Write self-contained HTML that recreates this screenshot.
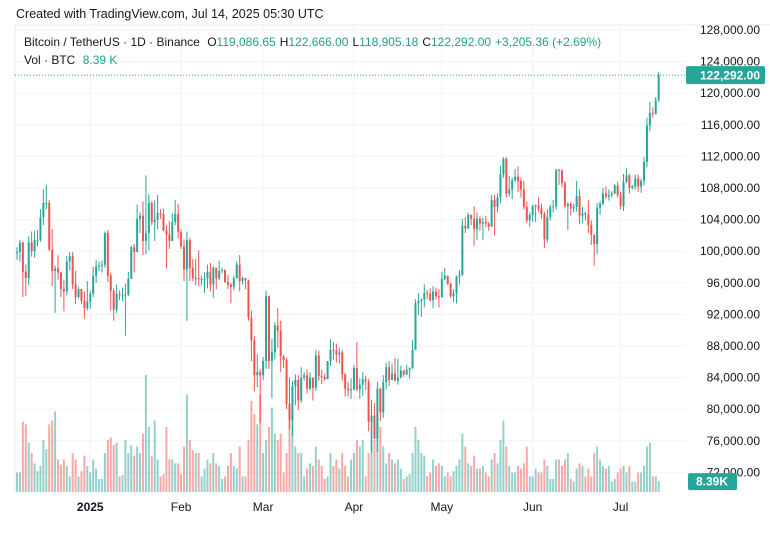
<!DOCTYPE html>
<html><head><meta charset="utf-8">
<style>
html,body{margin:0;padding:0;background:#fff;}
body{width:770px;height:533px;overflow:hidden;position:relative;font-family:"Liberation Sans",sans-serif;}
svg{position:absolute;left:0;top:0;}
</style></head>
<body>
<svg id="chart" width="770" height="533" viewBox="0 0 770 533">
  <text x="16" y="18" font-size="12.5" fill="#131722">Created with TradingView.com, Jul 14, 2025 05:30 UTC</text>
  <line x1="15" y1="25" x2="770" y2="25" stroke="#e6e8ee"/>
  <line x1="15" y1="25" x2="15" y2="493" stroke="#e6e8ee"/>
  <g id="grid"></g>
  <g id="vol"></g>
  <g id="candles"></g>
  <g id="yaxis"></g>
  <g id="xaxis"></g>
  <text x="24" y="46" font-size="12" fill="#131722">Bitcoin / TetherUS · 1D · Binance <tspan dx="4">O</tspan><tspan fill="#22a08f">119,086.65</tspan><tspan dx="4">H</tspan><tspan fill="#22a08f">122,666.00</tspan><tspan dx="4">L</tspan><tspan fill="#22a08f">118,905.18</tspan><tspan dx="4">C</tspan><tspan fill="#22a08f">122,292.00</tspan><tspan dx="4" fill="#22a08f">+3,205.36 (+2.69%)</tspan></text>
  <text x="24" y="64" font-size="12" fill="#131722">Vol · BTC <tspan dx="4" fill="#22a08f">8.39 K</tspan></text>
</svg>
<script>
const closes=[99.9,101.1,97.4,96.6,101.1,100.0,101.4,101.4,104.3,106.1,106.1,100.2,97.5,97.8,97.3,95.2,94.9,98.7,99.4,95.8,94.2,95.2,93.7,92.8,93.6,
94.6,96.9,98.1,98.2,98.3,102.3,96.9,95.0,92.6,94.6,94.5,94.5,94.5,96.5,100.5,99.9,104.1,104.5,101.3,102.3,106.1,103.7,104.0,104.8,104.7,102.6,102.1,101.3,103.7,104.7,102.4,
100.6,97.7,101.4,97.9,96.6,96.6,96.5,96.5,96.5,97.4,95.8,97.9,96.6,97.5,97.6,96.1,95.8,95.5,96.6,98.3,96.2,96.6,96.3,91.6,88.7,84.3,84.7,84.3,
86.1,94.3,86.1,87.2,90.6,89.9,86.7,86.2,80.7,78.6,82.9,83.7,81.1,84.0,84.3,82.6,84.0,82.7,86.8,84.2,84.1,83.8,86.1,87.5,87.4,86.9,87.2,84.4,82.6,82.4,82.5,
85.2,82.5,83.1,83.8,83.5,78.4,79.2,76.3,82.6,79.6,83.4,85.3,83.7,84.5,83.6,84.0,84.9,84.4,85.0,85.2,87.5,93.4,93.7,93.9,94.7,94.6,93.8,94.9,94.3,94.2,
96.5,96.9,95.9,94.3,94.7,96.8,97.0,103.2,102.9,104.6,104.1,102.8,104.1,103.5,103.7,103.5,103.1,106.5,105.6,106.8,109.7,111.7,107.3,107.8,109.0,109.4,108.9,107.8,105.6,103.9,104.6,
105.7,105.8,105.4,104.7,101.5,104.3,105.6,105.7,110.3,110.2,108.6,105.7,106.0,105.4,105.6,107.0,104.5,104.8,104.6,103.3,102.1,100.9,105.5,106.0,107.3,106.9,107.1,107.3,108.3,107.1,
105.7,108.8,109.6,108.0,108.2,109.2,108.2,108.9,111.3,115.9,117.5,117.4,119.09,122.29];
const highs=[100.5,101.4,101.2,98.3,101.9,102.5,102.6,102.7,105.3,107.8,108.4,106.5,102.8,98.2,99.5,97.4,96.4,99.4,99.9,99.9,97.5,95.5,95.2,94.9,96.2,
95.0,98.0,98.9,98.7,98.8,102.5,102.7,97.3,95.3,95.8,95.0,95.4,95.9,97.4,100.7,100.9,105.9,104.9,106.3,109.6,107.2,106.3,106.4,107.1,105.3,105.4,103.3,103.8,104.8,106.5,106.0,
102.8,101.5,102.5,101.7,99.0,99.0,100.1,96.9,97.3,98.3,98.5,98.1,97.3,98.8,97.9,97.7,97.0,96.0,96.9,98.7,99.5,96.8,96.5,96.4,92.5,89.3,87.0,85.1,
86.6,95.0,94.4,88.9,91.0,92.8,91.2,86.9,86.5,84.0,83.6,84.4,84.3,85.3,84.7,85.0,84.7,84.0,87.5,87.4,85.0,84.5,86.1,88.8,88.5,88.3,87.8,87.5,84.6,83.5,83.9,
85.6,88.5,83.9,84.7,84.2,83.8,81.2,80.8,83.5,82.7,84.3,85.9,86.1,85.8,86.5,86.4,85.5,85.0,85.6,85.3,88.8,93.9,94.7,94.0,95.8,95.1,95.3,95.6,95.4,95.2,
97.4,97.9,96.9,96.0,95.2,96.9,97.6,104.1,104.3,104.9,104.6,105.7,104.9,104.4,104.2,104.5,103.7,107.1,107.1,107.3,110.8,111.9,111.9,109.5,109.3,110.4,110.7,109.3,108.9,106.3,104.9,
105.9,105.9,106.8,106.0,105.0,105.3,105.9,106.5,110.4,110.4,110.4,108.9,106.2,106.2,106.0,108.9,107.8,105.6,105.0,106.5,103.9,102.1,106.1,106.3,108.0,108.2,107.8,107.6,108.5,108.8,
107.5,109.8,110.5,109.8,108.4,109.7,109.7,109.2,111.9,116.9,118.9,118.2,119.5,122.67];
const lows=[98.9,98.7,94.2,94.3,95.7,99.3,99.2,100.6,101.2,103.3,105.3,100.0,95.6,92.2,96.4,94.2,92.4,94.4,97.6,95.2,93.3,94.0,93.3,91.5,92.5,
92.7,94.2,96.0,97.5,97.3,97.9,96.1,92.5,91.2,92.2,93.8,93.7,89.3,94.3,96.5,97.3,99.9,102.3,99.5,99.6,100.1,103.3,101.3,102.8,104.1,102.5,97.8,100.3,101.3,103.3,101.6,
100.3,96.2,91.2,96.2,96.2,95.7,95.6,95.7,94.7,95.3,94.9,94.1,95.2,96.3,97.2,96.0,95.2,93.4,95.1,96.5,94.9,95.8,95.2,91.2,86.1,82.3,82.8,78.3,
83.7,85.1,85.1,81.4,86.3,87.8,84.7,85.2,80.0,77.5,76.6,80.5,79.9,80.8,83.6,82.0,82.4,81.1,82.3,83.6,83.2,83.6,83.8,85.5,86.3,85.9,85.8,83.6,81.6,81.6,81.3,
82.4,82.3,81.3,81.7,82.4,77.2,74.5,76.2,74.6,78.5,78.9,82.5,82.9,83.7,83.6,83.1,83.9,84.1,84.3,83.9,85.1,87.6,91.9,91.7,92.9,93.9,93.6,92.8,93.9,92.9,
94.1,96.3,95.7,94.1,93.5,93.4,95.8,96.9,102.3,102.8,103.3,100.7,101.4,102.6,101.4,103.1,102.6,103.1,102.0,104.9,106.1,109.3,106.8,106.9,106.6,108.7,107.5,106.8,105.3,103.6,103.1,
103.7,103.7,105.0,104.1,100.4,101.1,103.9,104.9,105.3,108.4,108.1,105.4,102.7,104.5,104.9,105.0,103.4,103.6,103.9,102.3,100.8,98.2,99.6,104.6,105.8,106.6,106.4,106.8,107.2,106.8,
105.3,105.1,108.6,107.3,107.8,107.8,107.5,107.4,108.3,110.6,115.2,116.9,117.3,118.91];
const volumes=[15,15,54,52,38,30,22,16,20,40,33,52,55,62,25,21,25,20,12,30,25,12,16,28,20,
15,25,18,10,10,30,40,42,36,38,12,13,40,30,36,28,35,30,45,90,50,28,55,25,12,14,50,25,25,22,22,
14,35,75,40,32,30,30,12,18,25,22,30,22,20,10,12,20,30,20,18,35,12,12,40,70,60,52,75,
30,40,50,65,45,40,45,15,30,55,60,35,30,30,12,18,22,20,35,25,20,10,12,30,20,25,18,30,20,12,25,
30,40,35,40,12,30,55,40,60,50,35,22,30,25,22,25,18,10,12,14,30,50,40,30,28,12,15,25,20,22,
20,12,15,12,16,20,25,45,35,22,20,28,18,18,20,15,12,25,30,22,40,55,35,20,15,15,20,18,22,35,12,
12,18,15,15,25,20,10,10,25,25,20,25,30,10,8,18,22,20,12,18,12,30,35,25,20,18,20,8,10,15,
18,20,15,20,8,8,15,15,20,35,38,12,12,8.39];
const priceTicks=[128000,124000,120000,116000,112000,108000,104000,100000,96000,92000,88000,84000,80000,76000,72000];
const monthLabels=["2025","Feb","Mar","Apr","May","Jun","Jul"];
const monthIdx=[25,56,84,115,145,176,206];

const NS="http://www.w3.org/2000/svg";
const X0=17,DX=2.93;
function xOf(i){return X0+i*DX;}
function yOf(p){return 30+(128-p)*7.9;}
function vOf(v){return 492-v*1.3;}
function mk(tag,attrs,parent){const e=document.createElementNS(NS,tag);for(const k in attrs)e.setAttribute(k,attrs[k]);parent.appendChild(e);return e;}
const grid=document.getElementById('grid'),vol=document.getElementById('vol'),cg=document.getElementById('candles'),ya=document.getElementById('yaxis'),xa=document.getElementById('xaxis');

priceTicks.forEach(t=>{
  const y=yOf(t/1000);
  const gl=mk('line',{x1:15,x2:686,y1:y,y2:y,stroke:'#f2f3f6'},grid);
  
  
  const tx=mk('text',{x:760,y:y+4,'font-size':12,fill:'#131722','text-anchor':'end'},ya);
  tx.textContent=t.toLocaleString('en-US')+'.00';
  
  
});
monthIdx.forEach((m,k)=>{
  const x=xOf(m);
  const gl=mk('line',{x1:x,x2:x,y1:25,y2:493,stroke:'#f2f3f6'},grid);
  
  
  const tx=mk('text',{x:x,y:511,'font-size':12,fill:'#131722','text-anchor':'middle','font-weight':k===0?'bold':'normal'},xa);
  tx.textContent=monthLabels[k];
  
  
});

let prev=99.8;
closes.forEach((c,i)=>{
  const o=i===closes.length-1?119.09:prev;
  const up=c>=o;
  const x=xOf(i);
  const vb=mk('rect',{x:x-1,y:vOf(volumes[i]),width:2,height:492-vOf(volumes[i]),fill:up?'rgba(38,166,154,0.5)':'rgba(239,83,80,0.5)'},vol);
  
  
  const col=up?'#26a69a':'#ef5350';
  const w=mk('line',{x1:x,x2:x,y1:yOf(highs[i]),y2:yOf(lows[i]),stroke:col,'stroke-width':1},cg);
  
  
  const top=yOf(Math.max(o,c)),bot=yOf(Math.min(o,c));
  const b=mk('rect',{x:x-1,y:top,width:2,height:Math.max(1,bot-top),fill:col},cg);
  
  
  prev=c;
});

const last=closes[closes.length-1];
const ly=yOf(last);
const dl=mk('line',{x1:15,x2:686,y1:ly,y2:ly,stroke:'#26a69a','stroke-dasharray':'1,2','stroke-width':1},cg);


const pb=mk('rect',{x:686,y:ly-9,width:79,height:18,rx:2,fill:'#26a69a'},ya);


const pt=mk('text',{x:760,y:ly+4.5,'font-size':12,fill:'#fff','text-anchor':'end','font-weight':'bold'},ya);
pt.textContent='122,292.00';


const lv=volumes[volumes.length-1];
const vy=vOf(lv);
const vbx=mk('rect',{x:688,y:vy-8,width:49,height:17,rx:2,fill:'#26a69a'},ya);


const vt=mk('text',{x:712,y:vy+4.5,'font-size':12,fill:'#fff','text-anchor':'middle','font-weight':'bold'},ya);
vt.textContent='8.39K';


</script>
</body></html>
